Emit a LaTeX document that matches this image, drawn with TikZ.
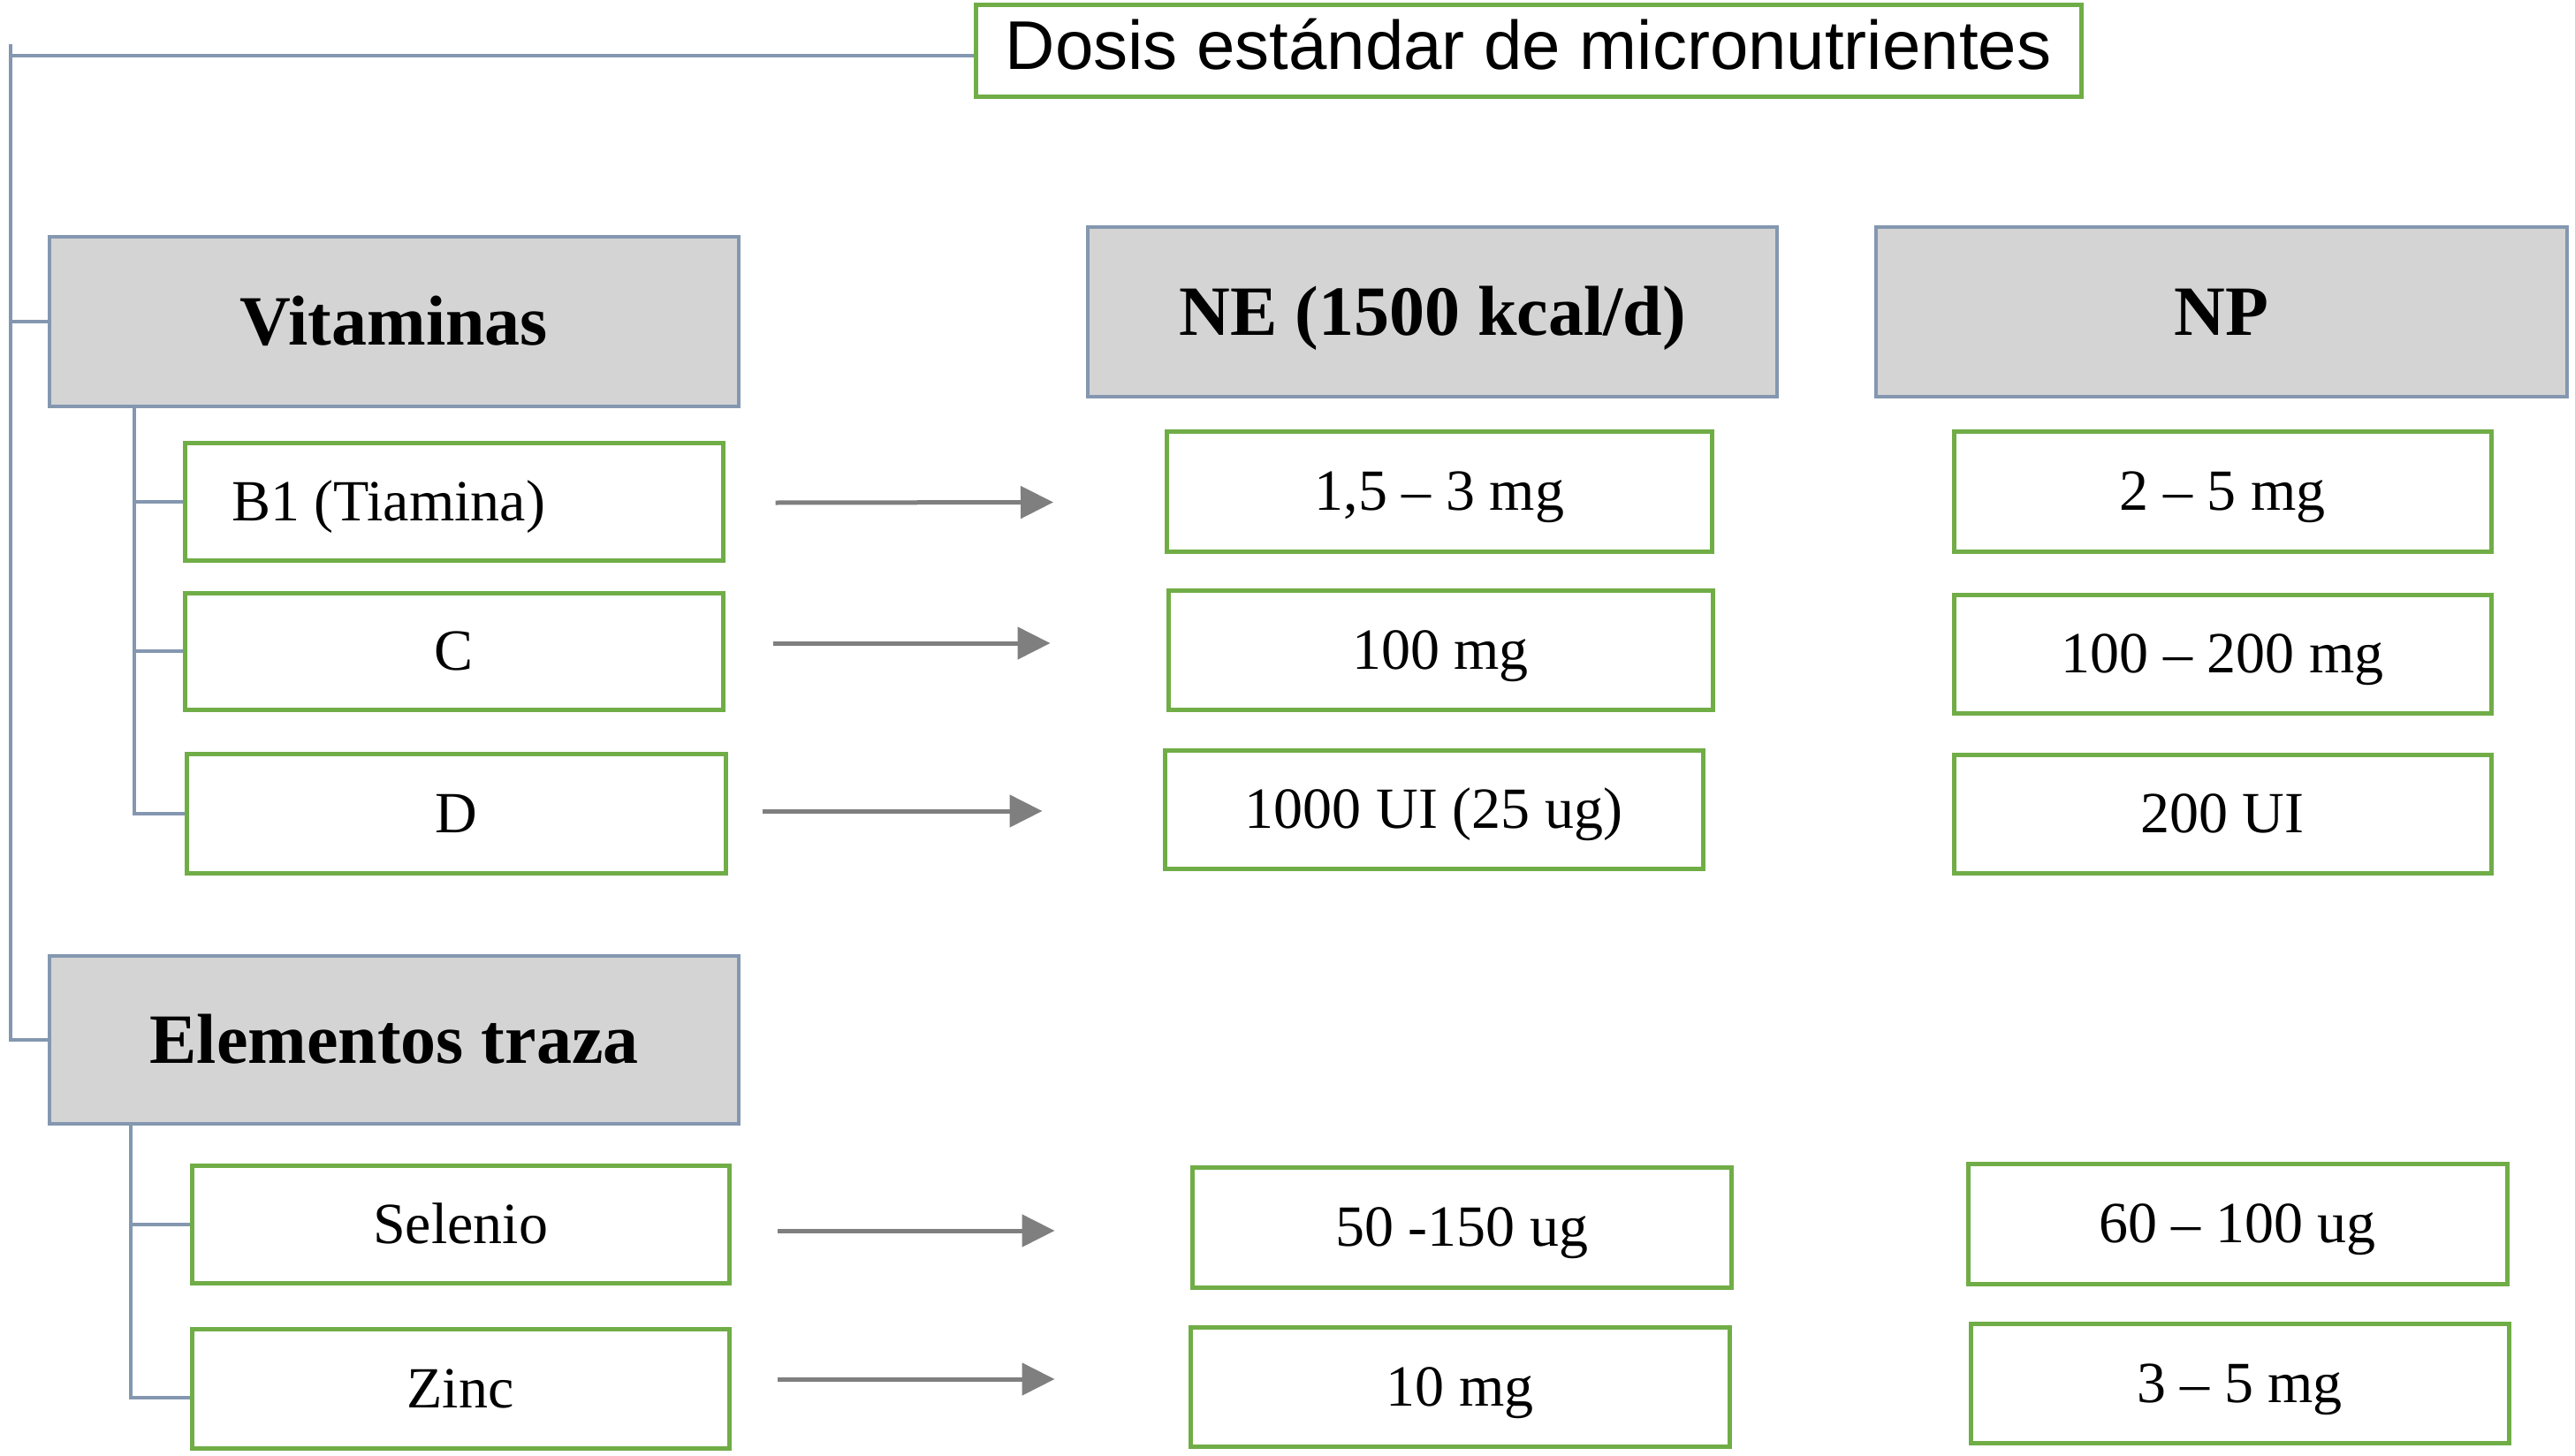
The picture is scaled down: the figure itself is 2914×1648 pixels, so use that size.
\documentclass[tikz,border=0pt]{standalone}
\usepackage{fontspec}
\setmainfont{Liberation Serif}
\newfontfamily\titlefont{Liberation Sans}
\usetikzlibrary{arrows.meta}
\definecolor{grn}{HTML}{70AD47}
\definecolor{bluegray}{HTML}{8497B0}
\definecolor{hdrfill}{HTML}{D4D4D4}
\definecolor{arrgray}{HTML}{7F7F7F}
\tikzset{
  hdrbox/.style={draw=bluegray, line width=4pt, fill=hdrfill, inner sep=0pt,
    font=\fontsize{80}{96}\selectfont\bfseries, text height=53pt, text depth=0pt},
  valbox/.style={draw=grn, line width=5pt, fill=white, inner sep=0pt,
    font=\fontsize{66}{80}\selectfont, text height=43.6pt, text depth=0pt},
  titlebox/.style={draw=grn, line width=5pt, fill=white, inner sep=0pt,
    font=\titlefont\fontsize{78}{94}\selectfont, text height=56pt, text depth=14pt},
  conn/.style={draw=bluegray, line width=4pt},
  arr/.style={draw=arrgray, line width=5pt, -{Triangle[length=37pt,width=36pt]}}
}
\begin{document}
\begin{tikzpicture}[x=1pt,y=-1pt]
\useasboundingbox (0,0) rectangle (2914,1648);
\fill[white] (0,0) rectangle (2914,1648);
% title
\node[titlebox, minimum width=1251pt, minimum height=104pt] (title) at (1729.5,58) {Dosis estándar de micronutrientes};
% headers
\node[hdrbox, minimum width=780pt, minimum height=192pt] (vit) at (446,364) {Vitaminas};
\node[hdrbox, minimum width=780pt, minimum height=192pt] (ne) at (1621,353) {NE (1500 kcal/d)};
\node[hdrbox, minimum width=782pt, minimum height=192pt] (np) at (2514,353) {NP};
\node[hdrbox, minimum width=780pt, minimum height=190pt] (elem) at (446,1177) {Elementos traza};
% vitamin items
\node[valbox, minimum width=609pt, minimum height=133pt] (b1) at (513.5,567.5) {\makebox[503pt][l]{B1 (Tiamina)}};
\node[valbox, minimum width=609pt, minimum height=132pt] (c) at (513.5,737) {C};
\node[valbox, minimum width=610pt, minimum height=135pt] (d) at (516,920.5) {D};
% trace elements
\node[valbox, minimum width=608pt, minimum height=133pt] (sel) at (521,1385.5) {Selenio};
\node[valbox, minimum width=608pt, minimum height=135pt] (zinc) at (521,1571.5) {Zinc};
% NE values
\node[valbox, minimum width=617pt, minimum height=136pt] (ne1) at (1629,556) {1,5 – 3 mg};
\node[valbox, minimum width=616pt, minimum height=135pt] (ne2) at (1630,735.5) {100 mg};
\node[valbox, minimum width=609pt, minimum height=134pt] (ne3) at (1622.5,916) {1000 UI (25 ug)};
\node[valbox, minimum width=610pt, minimum height=136pt] (ne4) at (1654,1389) {50 -150 ug};
\node[valbox, minimum width=610pt, minimum height=135pt] (ne5) at (1652,1569.5) {10 mg};
% NP values
\node[valbox, minimum width=608pt, minimum height=136pt] (np1) at (2515,556) {2 – 5 mg};
\node[valbox, minimum width=608pt, minimum height=134pt] (np2) at (2515,740) {100 – 200 mg};
\node[valbox, minimum width=608pt, minimum height=134pt] (np3) at (2515,921) {200 UI};
\node[valbox, minimum width=610pt, minimum height=136pt] (np4) at (2532,1385) {60 – 100 ug};
\node[valbox, minimum width=609pt, minimum height=135pt] (np5) at (2534.5,1565.5) {3 – 5 mg};
% main tree connectors
\coordinate (root) at (12,50);
\draw[conn] (root) |- (elem.west);
\draw[conn] (root |- 0,63) -- (title.west |- 0,63);
\draw[conn] (root |- vit.west) -- (vit.west);
% vitamin bracket
\coordinate (vb) at (152,460);
\draw[conn] (vb) |- (d.west);
\draw[conn] (vb |- b1.west) -- (b1.west);
\draw[conn] (vb |- c.west) -- (c.west);
% trace bracket
\coordinate (eb) at (148,1272);
\draw[conn] (eb) |- ([yshift=-10pt]zinc.west);
\draw[conn] (eb |- sel.west) -- (sel.west);
% arrows
\draw[arr] ([shift={(57,1.5)}]b1.east) -- ([shift={(-126,12.5)}]ne1.west);
\draw[arr] ([shift={(54,-9)}]c.east) -- ([shift={(-131,-7.5)}]ne2.west);
\draw[arr] ([shift={(39,-2.5)}]d.east) -- ([shift={(-136,2)}]ne3.west);
\draw[arr] ([shift={(52,7.5)}]sel.east) -- ([shift={(-153,4)}]ne4.west);
\draw[arr] ([shift={(52,-10.5)}]zinc.east) -- ([shift={(-151,-8.5)}]ne5.west);
\end{tikzpicture}
\end{document}
